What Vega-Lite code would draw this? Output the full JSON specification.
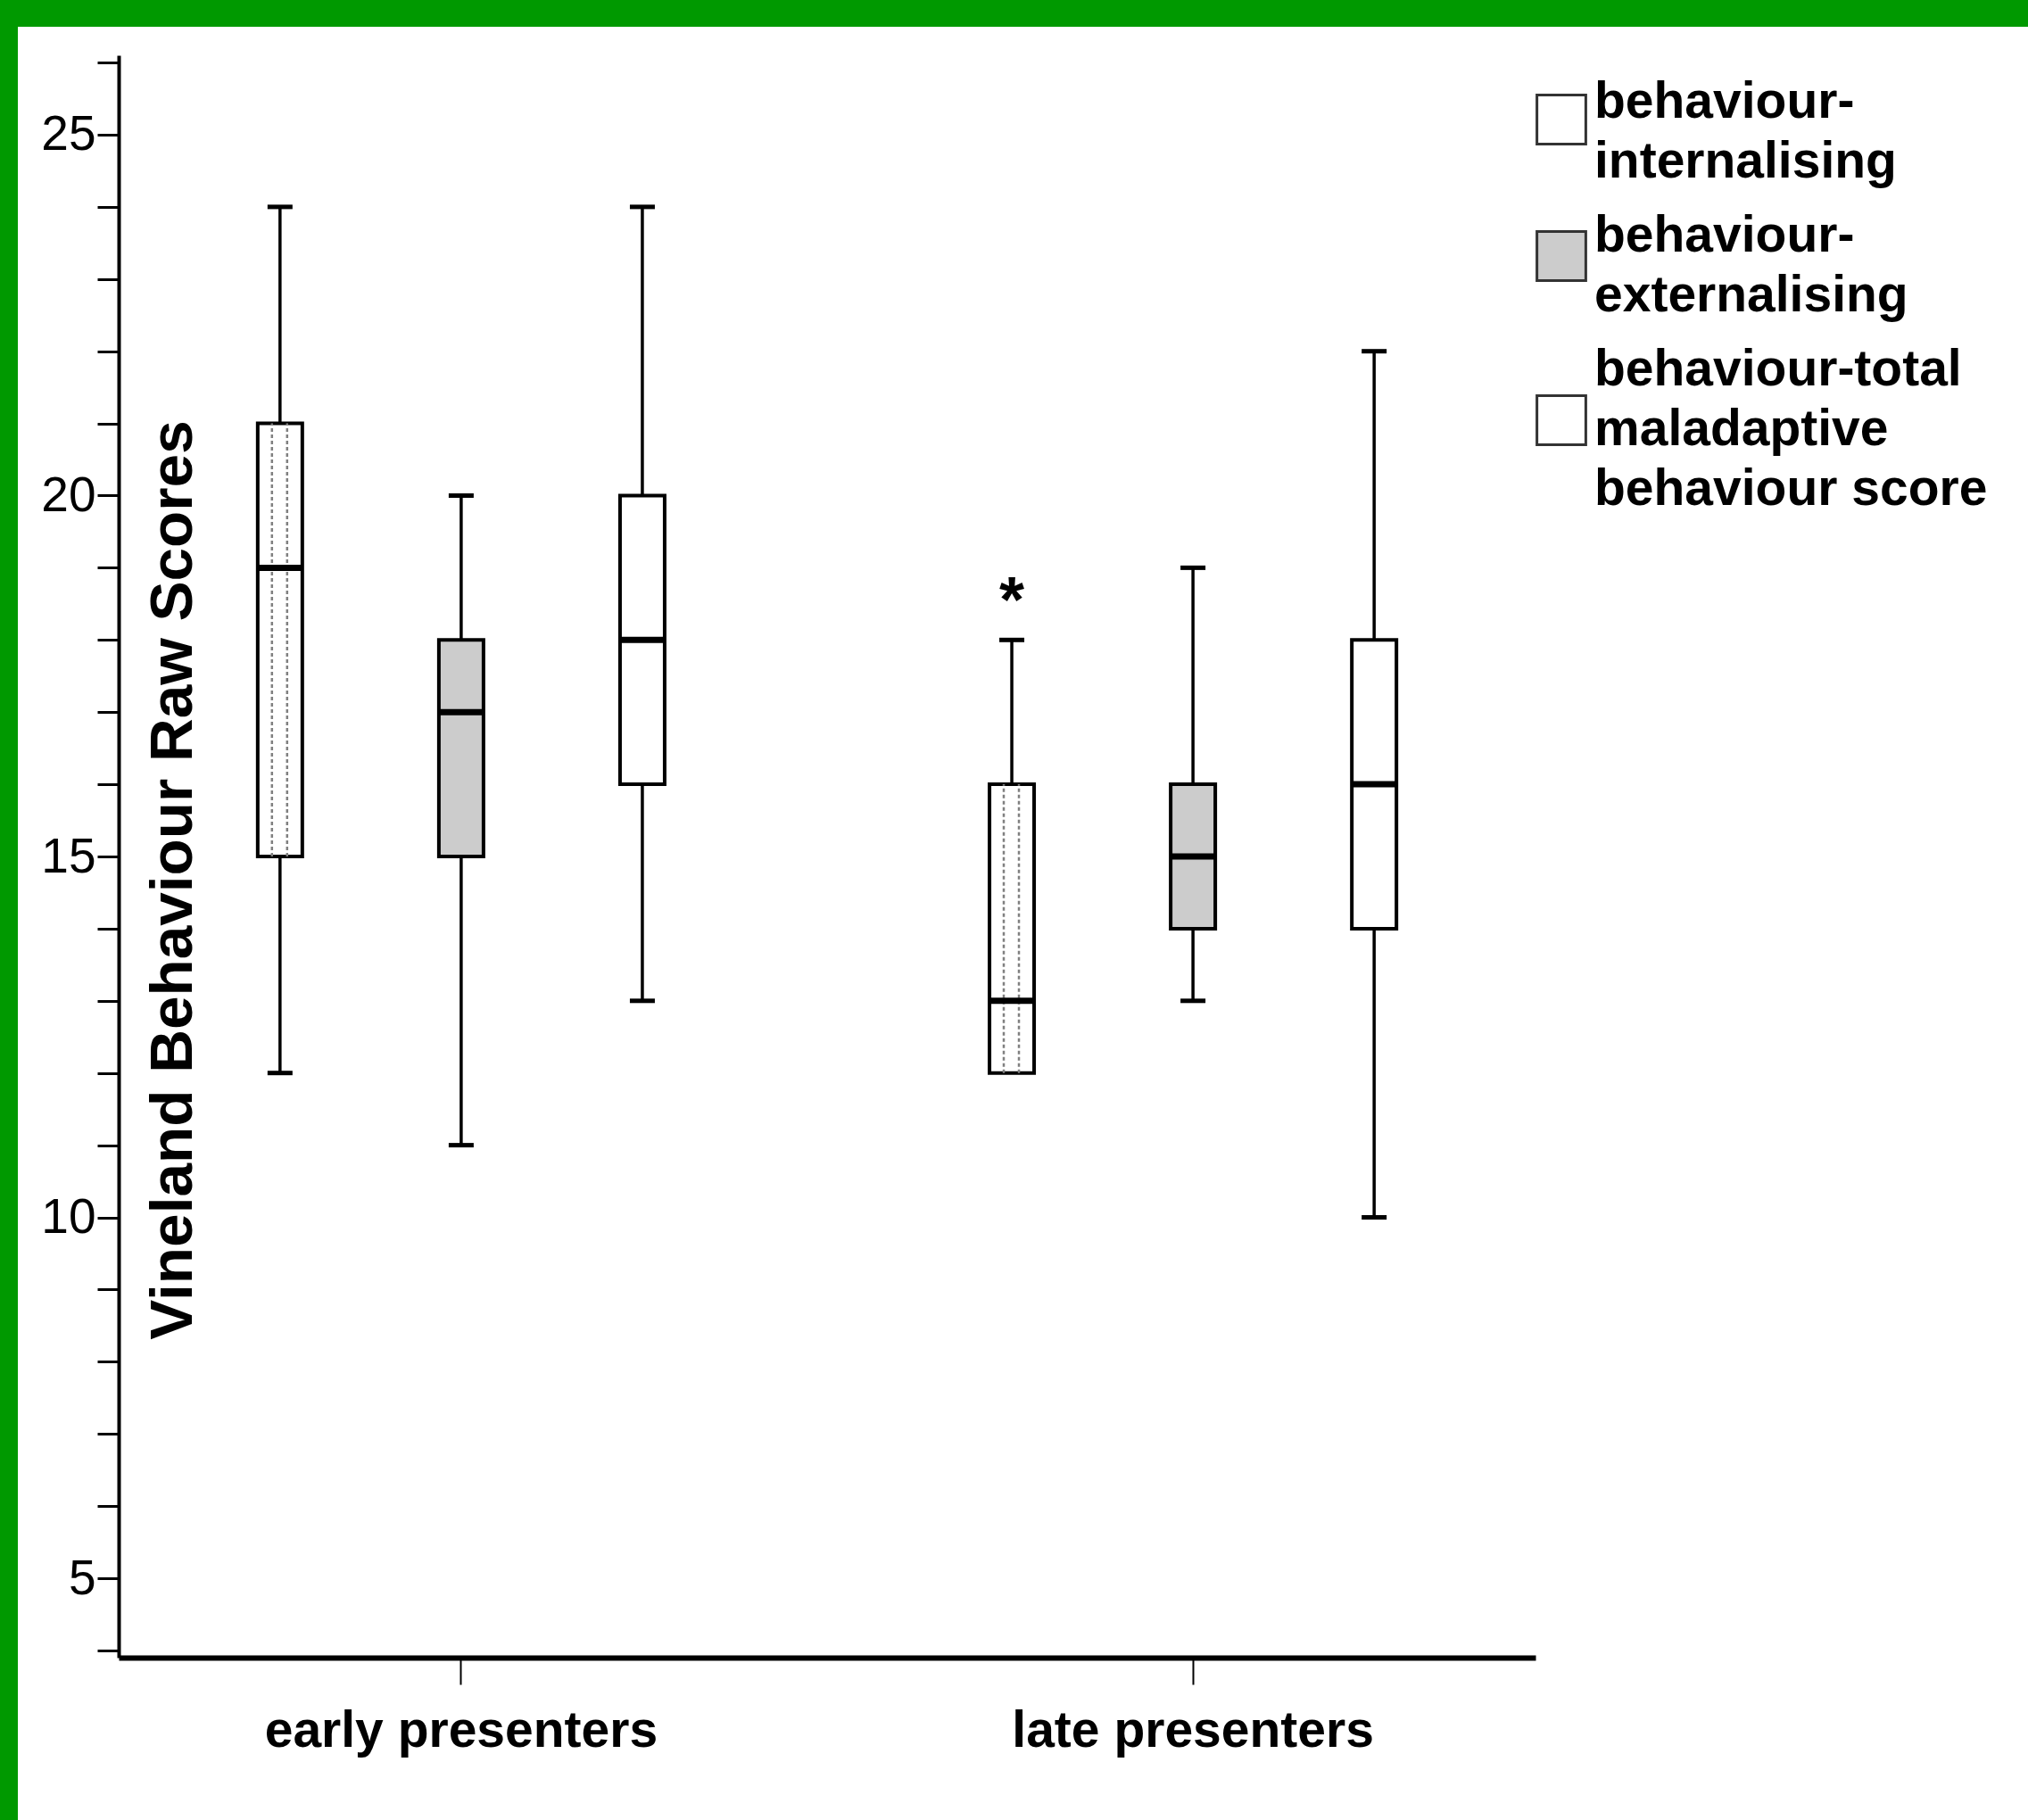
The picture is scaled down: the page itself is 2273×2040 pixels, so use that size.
{
  "$schema": "https://vega.github.io/schema/vega-lite/v6.json",
  "width": 2253,
  "height": 2010,
  "autosize": {"type": "none"},
  "padding": {"left": 20, "top": 30, "right": 0, "bottom": 0},
  "background": "#009900",
  "config": {"view": {"fill": "white", "stroke": null}, "font": "Liberation Sans"},
  "data": {
    "values": [
      {"group": "early presenters", "measure": "behaviour-internalising", "min": 12, "q1": 15, "median": 19, "q3": 21, "max": 24, "outlier": null},
      {"group": "early presenters", "measure": "behaviour-externalising", "min": 11, "q1": 15, "median": 17, "q3": 18, "max": 20, "outlier": null},
      {"group": "early presenters", "measure": "behaviour-total maladaptive behaviour score", "min": 13, "q1": 16, "median": 18, "q3": 20, "max": 24, "outlier": null},
      {"group": "late presenters", "measure": "behaviour-internalising", "min": 12, "q1": 12, "median": 13, "q3": 16, "max": 18, "outlier": 19},
      {"group": "late presenters", "measure": "behaviour-externalising", "min": 13, "q1": 14, "median": 15, "q3": 16, "max": 19, "outlier": null},
      {"group": "late presenters", "measure": "behaviour-total maladaptive behaviour score", "min": 10, "q1": 14, "median": 16, "q3": 18, "max": 22, "outlier": null}
    ]
  },
  "resolve": {"scale": {"xOffset": "independent"}},
  "encoding": {
    "x": {
      "field": "group", "type": "nominal",
      "sort": ["early presenters", "late presenters"],
      "scale": {"type": "band", "range": [113, 1701], "paddingInner": 0.2573, "paddingOuter": 0.0967},
      "axis": {
        "title": null, "orient": "bottom", "offset": -182,
        "domainColor": "black", "domainWidth": 6,
        "tickColor": "black", "tickWidth": 2, "tickSize": 30,
        "labelFont": "Liberation Sans", "labelFontSize": 57, "labelFontWeight": "bold",
        "labelColor": "black", "labelPadding": 24, "labelAngle": 0, "labelLimit": 0, "grid": false
      }
    },
    "xOffset": {
      "field": "measure", "type": "nominal",
      "sort": ["behaviour-internalising", "behaviour-externalising", "behaviour-total maladaptive behaviour score"],
      "scale": {"type": "band", "domain": ["behaviour-internalising", "behaviour-externalising", "behaviour-total maladaptive behaviour score"], "paddingInner": 0, "paddingOuter": 0}
    }
  },
  "layer": [
    {
      "mark": {"type": "rule", "color": "black", "strokeWidth": 3.5},
      "encoding": {
        "y": {
          "field": "q3", "type": "quantitative",
          "scale": {"domain": [3.9, 26.1], "range": [1828, 32], "nice": false, "zero": false},
          "axis": {
            "title": "Vineland Behaviour Raw Scores",
            "values": [4, 5, 6, 7, 8, 9, 10, 11, 12, 13, 14, 15, 16, 17, 18, 19, 20, 21, 22, 23, 24, 25, 26],
            "format": "d",
            "labelExpr": "datum.value % 5 === 0 ? datum.label : ''",
            "offset": -113,
            "domainColor": "black", "domainWidth": 4,
            "tickColor": "black", "tickWidth": 3, "tickSize": 24,
            "labelFont": "Liberation Sans Narrow, Liberation Sans", "labelFontSize": 55,
            "labelColor": "black", "labelPadding": 2, "labelFlush": false, "labelOverlap": false,
            "grid": false,
            "titleFont": "Liberation Sans", "titleFontSize": 67.5, "titleFontWeight": "bold", "titleColor": "black",
            "titleAngle": 270, "titleX": 61, "titleY": 956, "titleAlign": "center", "titleBaseline": "middle",
            "encode": {"ticks": {"x2": {"value": {"expr": "datum.value % 5 === 0 ? -24 : -14"}}}}
          }
        },
        "y2": {"field": "max"}
      }
    },
    {
      "mark": {"type": "rule", "color": "black", "strokeWidth": 3.5},
      "encoding": {
        "y": {"field": "min", "type": "quantitative"},
        "y2": {"field": "q1"}
      }
    },
    {
      "mark": {"type": "bar", "width": 50, "stroke": "black", "strokeWidth": 4, "opacity": 1},
      "encoding": {
        "y": {"field": "q1", "type": "quantitative"},
        "y2": {"field": "q3"},
        "fill": {
          "field": "measure", "type": "nominal",
          "scale": {
            "domain": ["behaviour-internalising", "behaviour-externalising", "behaviour-total maladaptive behaviour score"],
            "range": ["white", "#cccccc", "white"]
          },
          "legend": {
            "title": null, "orient": "none", "legendX": 1701, "legendY": 56,
            "symbolType": "square", "symbolSize": 3000,
            "symbolStrokeColor": "#333333", "symbolStrokeWidth": 3, "symbolOpacity": 1,
            "labelFont": "Liberation Sans", "labelFontSize": 57, "labelFontWeight": "bold", "labelColor": "black",
            "labelLimit": 0, "labelOffset": 8, "rowPadding": 26, "padding": 0,
            "labelExpr": "datum.label === 'behaviour-internalising' ? ['behaviour-', 'internalising'] : datum.label === 'behaviour-externalising' ? ['behaviour-', 'externalising'] : ['behaviour-total', 'maladaptive', 'behaviour score']",
            "encode": {
              "labels": {"update": {"lineHeight": {"value": 67}}},
              "symbols": {"update": {"y": {"signal": "datum.value === 'behaviour-total maladaptive behaviour score' ? 85 : (datum.value === 'behaviour-internalising' ? 48 : 51)"}}}
            }
          }
        }
      }
    },
    {
      "transform": [{"filter": "datum.measure === 'behaviour-internalising'"}],
      "mark": {"type": "rule", "color": "#808080", "strokeWidth": 2.5, "strokeDash": [4, 3]},
      "encoding": {
        "xOffset": {
          "field": "measure", "type": "nominal",
          "sort": ["behaviour-internalising", "behaviour-externalising", "behaviour-total maladaptive behaviour score"],
          "scale": {"type": "band", "domain": ["behaviour-internalising", "behaviour-externalising", "behaviour-total maladaptive behaviour score"], "range": [-9, 600], "paddingInner": 0, "paddingOuter": 0}
        },
        "y": {"field": "q1", "type": "quantitative"},
        "y2": {"field": "q3"}
      }
    },
    {
      "transform": [{"filter": "datum.measure === 'behaviour-internalising'"}],
      "mark": {"type": "rule", "color": "#808080", "strokeWidth": 2.5, "strokeDash": [4, 3]},
      "encoding": {
        "xOffset": {
          "field": "measure", "type": "nominal",
          "sort": ["behaviour-internalising", "behaviour-externalising", "behaviour-total maladaptive behaviour score"],
          "scale": {"type": "band", "domain": ["behaviour-internalising", "behaviour-externalising", "behaviour-total maladaptive behaviour score"], "range": [8, 617], "paddingInner": 0, "paddingOuter": 0}
        },
        "y": {"field": "q1", "type": "quantitative"},
        "y2": {"field": "q3"}
      }
    },
    {
      "mark": {"type": "tick", "color": "black", "thickness": 7, "size": 50, "opacity": 1},
      "encoding": {"y": {"field": "median", "type": "quantitative"}}
    },
    {
      "mark": {"type": "tick", "color": "black", "thickness": 5, "size": 28, "opacity": 1},
      "encoding": {"y": {"field": "max", "type": "quantitative"}}
    },
    {
      "transform": [{"filter": "datum.min < datum.q1"}],
      "mark": {"type": "tick", "color": "black", "thickness": 5, "size": 28, "opacity": 1},
      "encoding": {"y": {"field": "min", "type": "quantitative"}}
    },
    {
      "transform": [{"filter": "datum.outlier != null"}],
      "mark": {"type": "text", "text": "*", "fontSize": 72, "fontWeight": "bold", "color": "black", "baseline": "alphabetic", "dy": 61},
      "encoding": {"y": {"field": "outlier", "type": "quantitative"}}
    }
  ]
}
